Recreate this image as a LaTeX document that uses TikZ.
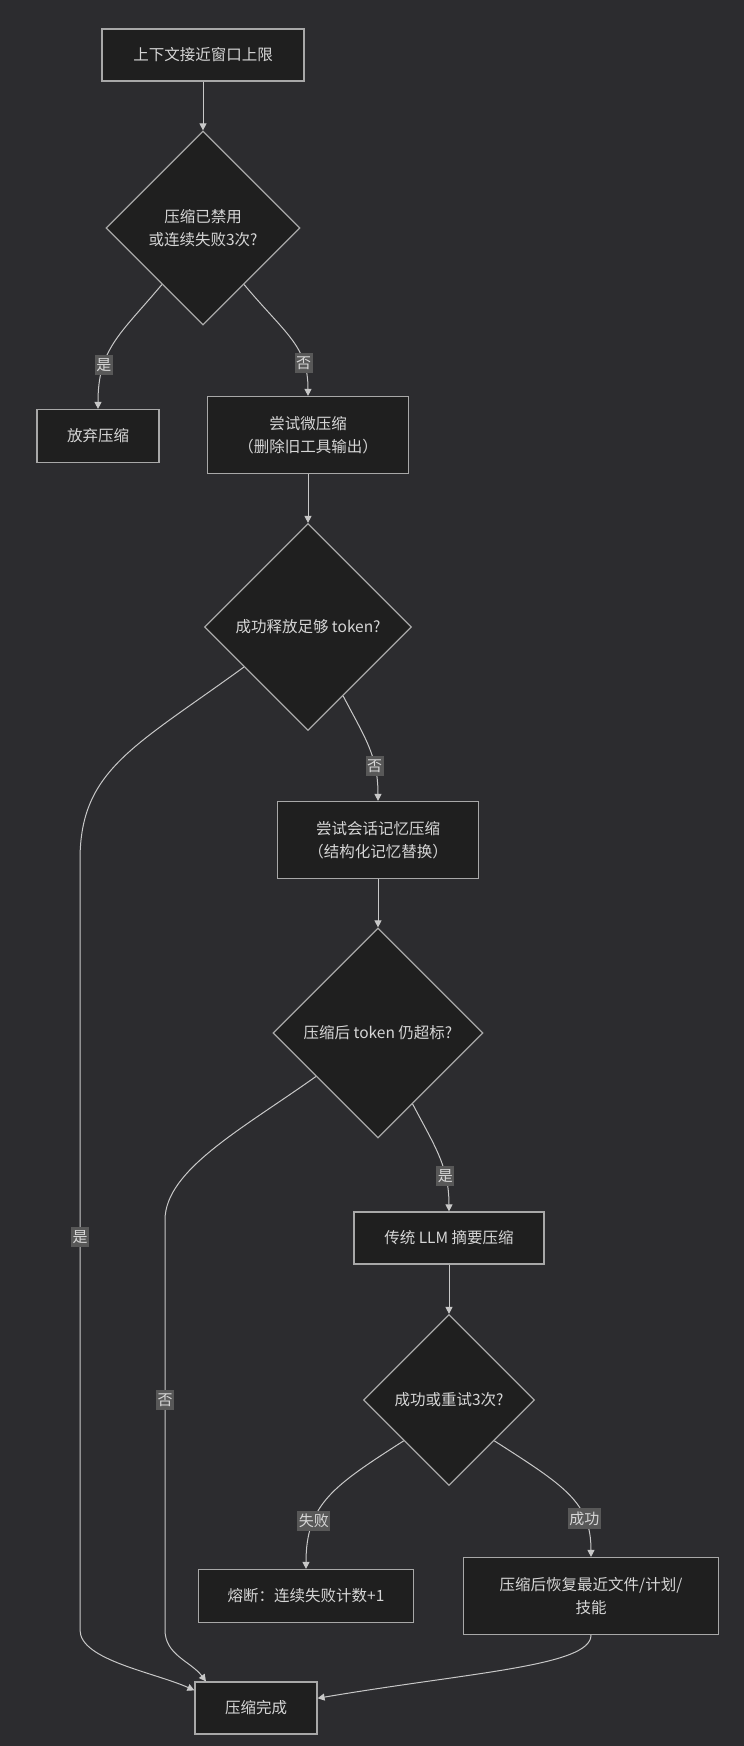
\documentclass[tikz,border=0pt]{standalone}
\usepackage{fontspec}
\setmainfont{Noto Sans CJK SC}
\usepackage{tikz}
\usetikzlibrary{arrows.meta,shapes.geometric}
\usepackage{xcolor}
\definecolor{canvas}{HTML}{2C2C2F}
\definecolor{boxfill}{HTML}{1F1F1F}
\definecolor{boxline}{HTML}{A8A8A8}
\definecolor{inkgray}{HTML}{D6D6D6}
\definecolor{tagfill}{HTML}{585858}
\definecolor{wire}{HTML}{C8C8C8}

\begin{document}
\begin{tikzpicture}[x=1pt, y=-1pt,
  stepbox/.style={rectangle, draw=boxline, fill=boxfill, line width=1.2pt, text=inkgray, align=center, font=\fontsize{15.5}{23}\selectfont},
  decision/.style={diamond, shape aspect=1, draw=boxline, fill=boxfill, line width=1.2pt, text=inkgray, align=center, inner sep=0pt, font=\fontsize{15.5}{23}\selectfont},
  flow/.style={-{Triangle[length=7pt, width=7pt]}, draw=wire, line width=1pt},
  tag/.style={fill=tagfill, text=inkgray, inner xsep=1.5pt, inner ysep=3.5pt, font=\fontsize{15}{15}\selectfont}
]
\useasboundingbox (0,0) rectangle (744,1746);
\fill[canvas] (0,0) rectangle (744,1746);

\node[stepbox, minimum width=202pt, minimum height=52pt] (limit) at (203,55) {上下文接近窗口上限};
\node[decision, minimum size=194pt] (check) at (203,228) {压缩已禁用\\或连续失败3次?};
\node[stepbox, minimum width=122pt, minimum height=53pt] (giveup) at (98,436) {放弃压缩};
\node[stepbox, minimum width=201pt, minimum height=77pt] (micro) at (308,435) {尝试微压缩\\（删除旧工具输出）};
\node[decision, minimum size=207pt] (freed) at (308,627) {成功释放足够 token?};
\node[stepbox, minimum width=201pt, minimum height=77pt] (session) at (378,840) {尝试会话记忆压缩\\（结构化记忆替换）};
\node[decision, minimum size=210pt] (still) at (378,1033) {压缩后 token 仍超标?};
\node[stepbox, minimum width=190pt, minimum height=52pt] (llm) at (449,1238) {传统 LLM 摘要压缩};
\node[decision, minimum size=171pt] (retry) at (449,1400) {成功或重试3次?};
\node[stepbox, minimum width=215pt, minimum height=53pt] (fuse) at (306,1596) {熔断：连续失败计数+1};
\node[stepbox, minimum width=255pt, minimum height=77pt] (restore) at (591,1596) {压缩后恢复最近文件/计划/\\技能};
\node[stepbox, minimum width=122pt, minimum height=52pt] (done) at (256,1708) {压缩完成};

\coordinate (yestop) at (80,860);
\coordinate (yesend) at (80,1630);
\coordinate (notop) at (165,1220);
\coordinate (noend) at (165,1630);

\draw[flow] (limit) -- (check);
\draw[flow] (check.234) .. controls +(-42,50) and +(0,-60) .. node[tag, pos=0.7] (t1) {是} (giveup.north);
\draw[flow] (check.-54) .. controls +(42,50) and +(0,-50) .. node[tag, pos=0.74] (t2) {否} (micro.north);
\draw[flow] (micro) -- (freed);
\draw[flow] (freed.-63) .. controls +(22,42) and +(0,-45) .. node[tag, pos=0.7] (t3) {否} (session.north);
\draw[flow] (session) -- (still);
\draw[flow] (still.-64) .. controls +(22,42) and +(0,-45) .. node[tag, pos=0.7] (t4) {是} (llm.north);
\draw[flow] (llm) -- (retry);
\draw[flow] (retry.222) .. controls +(-70,45) and +(0,-65) .. node[tag, pos=0.7] (t5) {失败} (fuse.north);
\draw[flow] (retry.-42) .. controls +(70,45) and +(0,-55) .. node[tag, pos=0.72] (t6) {成功} (restore.north);
\draw[flow] (freed.212) .. controls +(-110,80) and +(0,-90) .. (yestop) -- node[tag, pos=0.49] (t7) {是} (yesend) .. controls +(0,30) and +(-40,-18) .. (done.164);
\draw[flow] (still.215) .. controls +(-73,52) and +(0,-50) .. (notop) -- node[tag, pos=0.44] (t8) {否} (noend) .. controls +(0,25) and +(-15,-20) .. (done.152);
\draw[flow] (restore.south) .. controls +(0,31) and +(153,-26) .. (done.9);
\end{tikzpicture}
\end{document}
